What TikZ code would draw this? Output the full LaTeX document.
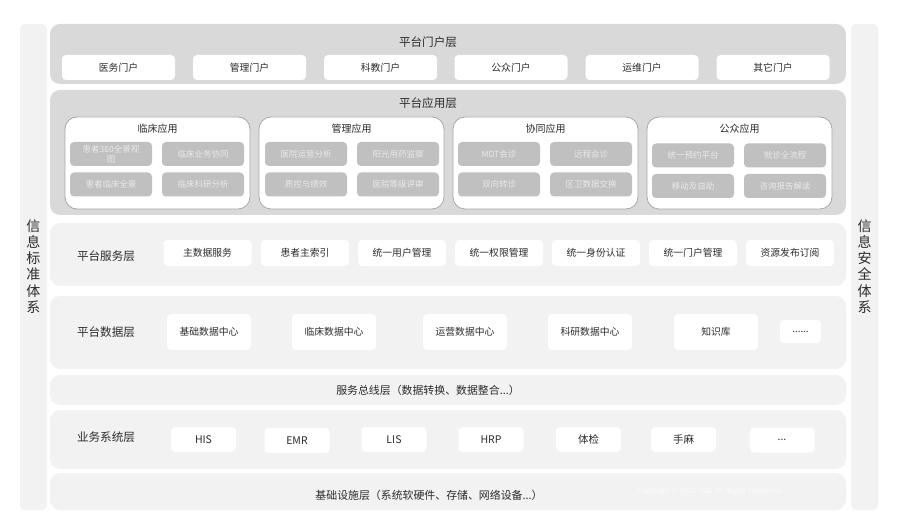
\documentclass[tikz,border=0pt]{standalone}
\usepackage{fontspec}
\setmainfont{Noto Sans CJK SC}
\newfontfamily\latinsans{Liberation Sans}
\definecolor{layerdark}{HTML}{D9D9D9}
\definecolor{layerlight}{HTML}{F2F2F2}
\definecolor{innergray}{HTML}{C0C0C0}
\definecolor{innertext}{HTML}{EAEAEA}
\definecolor{panelborder}{HTML}{A8A8A8}
\definecolor{txt}{HTML}{2B2B2B}
\definecolor{copytext}{HTML}{FBFBFB}
\tikzset{
  layerbox/.style={rounded corners=10pt, inner sep=0pt, minimum width=796pt},
  darklayer/.style={layerbox, fill=layerdark},
  lightlayer/.style={layerbox, fill=layerlight},
  sidebar/.style={fill=layerlight, rounded corners=5pt, inner sep=0pt, minimum width=27pt, minimum height=486pt},
  sidetext/.style={text=txt, font=\fontsize{14}{16.2}\selectfont, align=center, inner sep=0pt},
  title/.style={text=txt, font=\fontsize{11.6}{13}\selectfont, inner sep=0pt},
  whitebox/.style={fill=white, rounded corners=4pt, inner sep=0pt, text=txt, font=\fontsize{9.8}{11}\selectfont},
  portalbox/.style={whitebox, minimum width=113pt, minimum height=25pt},
  panel/.style={fill=white, draw=panelborder, line width=0.8pt, rounded corners=12pt, inner sep=0pt, minimum width=185pt, minimum height=92pt},
  paneltitle/.style={text=txt, font=\fontsize{10}{12}\selectfont, inner sep=0pt},
  graybox/.style={fill=innergray, rounded corners=4pt, inner sep=1pt, text=innertext, font=\fontsize{8.5}{9.6}\selectfont, minimum width=82pt, minimum height=24pt, text width=76pt, align=center},
  servbox/.style={whitebox, minimum width=88pt, minimum height=26pt},
  databox/.style={whitebox, minimum width=84pt, minimum height=36pt},
  bizbox/.style={whitebox, minimum width=65pt, minimum height=25pt, font=\fontsize{10.5}{12}\selectfont},
}
\begin{document}
\begin{tikzpicture}[x=1pt, y=-1pt]
\useasboundingbox[fill=white] (0,0) rectangle (900,529);

% side bars
\node[sidebar] (lbar) at (33.5,267) {};
\node[sidebar] (rbar) at (864.5,267) {};
\node[sidetext] (ltext) at (33.5,266.5) {信\\息\\标\\准\\体\\系};
\node[sidetext] (rtext) at (864.5,266.5) {信\\息\\安\\全\\体\\系};

% portal layer
\node[darklayer, minimum height=60pt] (portal) at (448,54) {};
\node[title] (portalt) at (428,42) {平台门户层};
\node[portalbox] (p1) at (118.5,67.5) {医务门户};
\node[portalbox] (p2) at (249.5,67.5) {管理门户};
\node[portalbox] (p3) at (380.5,67.5) {科教门户};
\node[portalbox] (p4) at (511,67.5) {公众门户};
\node[portalbox] (p5) at (642,67.5) {运维门户};
\node[portalbox] (p6) at (773,67.5) {其它门户};

% application layer
\node[darklayer, minimum height=125pt] (app) at (448,152.5) {};
\node[title] (appt) at (428,103) {平台应用层};

\node[panel] (a1) at (157.5,163) {};
\node[paneltitle] (a1t) at (157.5,129) {临床应用};
\node[graybox] (a11) at (111,154) {患者360全景视\\图};
\node[graybox] (a12) at (203,154) {临床业务协同};
\node[graybox] (a13) at (111,184.5) {患者临床全景};
\node[graybox] (a14) at (203,184.5) {临床科研分析};

\node[panel] (a2) at (351.5,163) {};
\node[paneltitle] (a2t) at (351.5,129) {管理应用};
\node[graybox] (a21) at (306,154) {医院运营分析};
\node[graybox] (a22) at (398,154) {阳光用药监察};
\node[graybox] (a23) at (306,184.5) {质控与绩效};
\node[graybox] (a24) at (398,184.5) {医院等级评审};

\node[panel] (a3) at (545.5,163) {};
\node[paneltitle] (a3t) at (545.5,129) {协同应用};
\node[graybox] (a31) at (499,154) {MDT会诊};
\node[graybox] (a32) at (591,154) {远程会诊};
\node[graybox] (a33) at (499,184.5) {双向转诊};
\node[graybox] (a34) at (591,184.5) {区卫数据交换};

\node[panel] (a4) at (739.5,163) {};
\node[paneltitle] (a4t) at (739.5,129) {公众应用};
\node[graybox] (a41) at (693,155.5) {统一预约平台};
\node[graybox] (a42) at (785,155.5) {就诊全流程};
\node[graybox] (a43) at (693,186) {移动及自助};
\node[graybox] (a44) at (785,186) {咨询报告解读};

% service layer
\node[lightlayer, minimum height=63pt] (serv) at (448,254.5) {};
\node[title] (servt) at (106,256.5) {平台服务层};
\node[servbox] (s1) at (207.5,253) {主数据服务};
\node[servbox] (s2) at (305,253) {患者主索引};
\node[servbox] (s3) at (402,253) {统一用户管理};
\node[servbox] (s4) at (499,253) {统一权限管理};
\node[servbox] (s5) at (596,253) {统一身份认证};
\node[servbox] (s6) at (693,253) {统一门户管理};
\node[servbox] (s7) at (790,253) {资源发布订阅};

% data layer
\node[lightlayer, minimum height=73pt] (data) at (448,332.5) {};
\node[title] (datat) at (106,332.5) {平台数据层};
\node[databox] (d1) at (209,332) {基础数据中心};
\node[databox] (d2) at (334,332) {临床数据中心};
\node[databox] (d3) at (465,332) {运营数据中心};
\node[databox] (d4) at (590,332) {科研数据中心};
\node[databox] (d5) at (716,332) {知识库};
\node[whitebox, minimum width=41pt, minimum height=23pt] (d6) at (800.5,331.5) {......};

% bus layer
\node[lightlayer, minimum height=30pt] (bus) at (448,390) {};
\node[title, font=\fontsize{10.9}{12}\selectfont] (bust) at (428,390) {服务总线层（数据转换、数据整合...）};

% business layer
\node[lightlayer, minimum height=59pt] (biz) at (448,439.5) {};
\node[title] (bizt) at (106,437) {业务系统层};
\node[bizbox] (b1) at (203.5,439.5) {HIS};
\node[bizbox] (b2) at (297,440.5) {EMR};
\node[bizbox] (b3) at (394,439.5) {LIS};
\node[bizbox] (b4) at (491,439.5) {HRP};
\node[bizbox] (b5) at (588.5,439.5) {体检};
\node[bizbox] (b6) at (683.5,439.5) {手麻};
\node[bizbox] (b7) at (782,440) {...};

% infrastructure layer
\node[lightlayer, minimum height=37pt] (infra) at (448,491.5) {};
\node[title, font=\fontsize{10.9}{12}\selectfont] (infrat) at (429,495) {基础设施层（系统软硬件、存储、网络设备...）};
\node[inner sep=0pt, text=copytext, font=\latinsans\fontsize{7.5}{9}\selectfont] (copy) at (710,492) {Copyright © 2020 UID. All Rights Reserved.};
\end{tikzpicture}
\end{document}
